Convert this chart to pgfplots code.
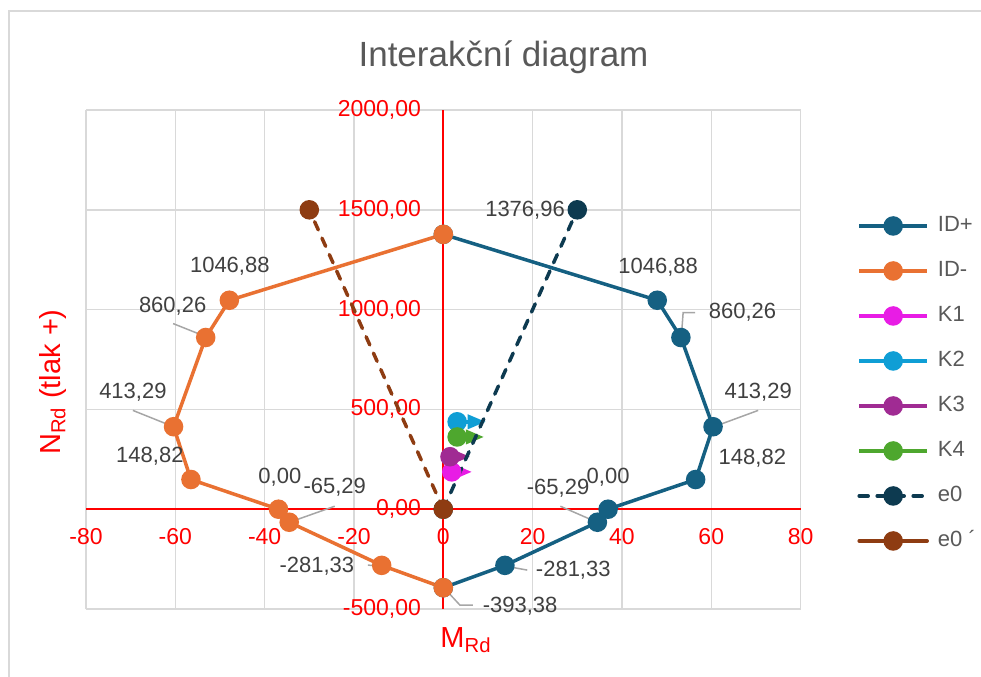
\documentclass[border=0pt]{standalone}
\usepackage{fontspec}
\setmainfont{Liberation Sans}
\usepackage{pgfplots}
\pgfplotsset{compat=1.18}
\usetikzlibrary{arrows.meta}
\definecolor{idp}{HTML}{156082}
\definecolor{idm}{HTML}{E97132}
\definecolor{kone}{HTML}{E81CE5}
\definecolor{ktwo}{HTML}{0F9ED5}
\definecolor{kthree}{HTML}{A02B93}
\definecolor{kfour}{HTML}{4EA72E}
\definecolor{ezero}{HTML}{0D3A50}
\definecolor{ezerob}{HTML}{8E3C12}
\definecolor{gridc}{HTML}{D9D9D9}
\definecolor{labc}{HTML}{404040}
\definecolor{titlec}{HTML}{595959}
\definecolor{leadc}{HTML}{A6A6A6}
\definecolor{axred}{HTML}{FF0000}
\begin{document}
\begin{tikzpicture}
\path[use as bounding box] (0pt,0pt) rectangle (490.5pt,-338pt);
\draw[color=gridc, line width=0.75pt] (4.5pt,-5.5pt) rectangle (500pt,-350pt);
\node[anchor=base, text=titlec, font=\fontsize{17.5}{20}\selectfont, inner sep=0pt] at (251.75pt,-33pt) {Interakční diagram};
\node[rotate=90, text=axred, font=\fontsize{14.5}{17}\selectfont, inner sep=0pt] at (26.5pt,-191pt) {N\textsubscript{Rd} (tlak +)};
\node[text=axred, font=\fontsize{14.5}{17}\selectfont, inner sep=0pt] at (233pt,-320pt) {M\textsubscript{Rd}};
\begin{axis}[
  at={(43pt,-304.5pt)}, anchor=south west,
  scale only axis, width=357.3pt, height=249.5pt,
  xmin=-80, xmax=80, ymin=-500, ymax=2000,
  xtick={-80,-60,-40,-20,0,20,40,60,80},
  ytick={-500,0,500,1000,1500,2000},
  grid=major, grid style={color=gridc, line width=0.75pt},
  axis line style={draw=none},
  major tick length=0pt,
  clip=false,
  /pgf/number format/assume math mode=true,
  tick label style={font=\fontsize{11.5}{13}\selectfont, text=axred},
  xticklabel style={yshift=44pt},
  yticklabel style={xshift=171pt, /pgf/number format/.cd, fixed, fixed zerofill, precision=2, use comma, 1000 sep={}},
  extra x ticks={0}, extra y ticks={0},
  extra x tick labels={}, extra y tick labels={},
  extra tick style={grid style={color=axred, line width=1pt}},
  legend cell align=left,
  legend style={at={(1.079,0.452)}, anchor=west, draw=none, fill=none, inner sep=0pt,
    font=\fontsize{11}{13}\selectfont, text=titlec, row sep=12pt,
    nodes={inner sep=0pt, text height=8pt, text depth=2.5pt},
    /tikz/every odd column/.append style={column sep=4.5pt}},
  legend image code/.code={\draw[mark repeat=2,mark phase=2,#1] plot coordinates {(0pt,0pt)(17pt,0pt)(34pt,0pt)};},
  every axis plot/.append style={line width=1.75pt, mark size=4pt},
]
\addplot[idp, mark=*] coordinates {(0,1376.96) (47.9,1046.88) (53.2,860.26) (60.4,413.29) (56.5,148.82) (36.9,0) (34.5,-65.29) (13.8,-281.33) (0,-393.38)};
\addlegendentry{ID+}
\addplot[idm, mark=*] coordinates {(0,1376.96) (-47.9,1046.88) (-53.2,860.26) (-60.4,413.29) (-56.5,148.82) (-36.9,0) (-34.5,-65.29) (-13.8,-281.33) (0,-393.38)};
\addlegendentry{ID-}
\addplot[kone, mark=*] coordinates {(1.9,187)};
\addlegendentry{K1}
\addplot[forget plot, kone, -{Triangle[length=9pt,width=7pt]}] coordinates {(1.9,187) (6.4,187)};
\addplot[ktwo, mark=*] coordinates {(3.1,438)};
\addlegendentry{K2}
\addplot[forget plot, ktwo, -{Triangle[length=9pt,width=7pt]}] coordinates {(3.1,438) (9.5,438)};
\addplot[kthree, mark=*] coordinates {(1.5,263)};
\addlegendentry{K3}
\addplot[forget plot, kthree, -{Triangle[length=9pt,width=7pt]}] coordinates {(1.5,263) (6.0,263)};
\addplot[kfour, mark=*] coordinates {(3.1,362)};
\addlegendentry{K4}
\addplot[forget plot, kfour, -{Triangle[length=9pt,width=7pt]}] coordinates {(3.1,362) (9.1,362)};
\addplot[ezero, line width=1.75pt, dash pattern=on 4.5pt off 4.5pt, line cap=round, mark=*, mark options={solid}] coordinates {(0,0) (30,1500)};
\addlegendentry{e0}
\addplot[ezerob, line width=1.75pt, dash pattern=on 4.5pt off 4.5pt, line cap=round, mark=*, mark options={solid}, legend image post style={solid}] coordinates {(0,0) (-30,1500)};
\addlegendentry{e0 ´}
% data labels
\begin{scope}[every node/.style={font=\fontsize{11}{13}\selectfont, text=labc, inner sep=0pt}]
\node at (axis cs:18.3,1500) {1376,96};
\node at (axis cs:48.1,1210) {1046,88};
\node at (axis cs:67.0,985) {860,26};
\node at (axis cs:70.5,585) {413,29};
\node at (axis cs:69.2,255) {148,82};
\node at (axis cs:36.9,160) {0,00};
\node at (axis cs:25.7,105) {-65,29};
\node at (axis cs:29.1,-305) {-281,33};
\node at (axis cs:17.2,-485) {-393,38};
\node at (axis cs:-47.8,1215) {1046,88};
\node at (axis cs:-60.6,1015) {860,26};
\node at (axis cs:-69.5,585) {413,29};
\node at (axis cs:-65.7,265) {148,82};
\node at (axis cs:-36.6,160) {0,00};
\node at (axis cs:-24.3,110) {-65,29};
\node at (axis cs:-28.3,-285) {-281,33};
\end{scope}
\begin{scope}[leadc, line width=0.75pt]
\draw (axis cs:53.3,865) -- (axis cs:53.7,985) -- (axis cs:56.4,985);
\draw (axis cs:60.8,415) -- (axis cs:70.5,495);
\draw (axis cs:26.2,15) -- (axis cs:34.4,-65);
\draw (axis cs:13.9,-285) -- (axis cs:18.8,-305);
\draw (axis cs:0.4,-400) -- (axis cs:3.7,-480) -- (axis cs:6.6,-480);
\draw (axis cs:-60.5,930) -- (axis cs:-53.2,865);
\draw (axis cs:-69.5,495) -- (axis cs:-60.6,415);
\draw (axis cs:-24.3,15) -- (axis cs:-34.4,-65);
\draw (axis cs:-16.9,-280) -- (axis cs:-14.2,-285);
\end{scope}
\end{axis}
\end{tikzpicture}
\end{document}
